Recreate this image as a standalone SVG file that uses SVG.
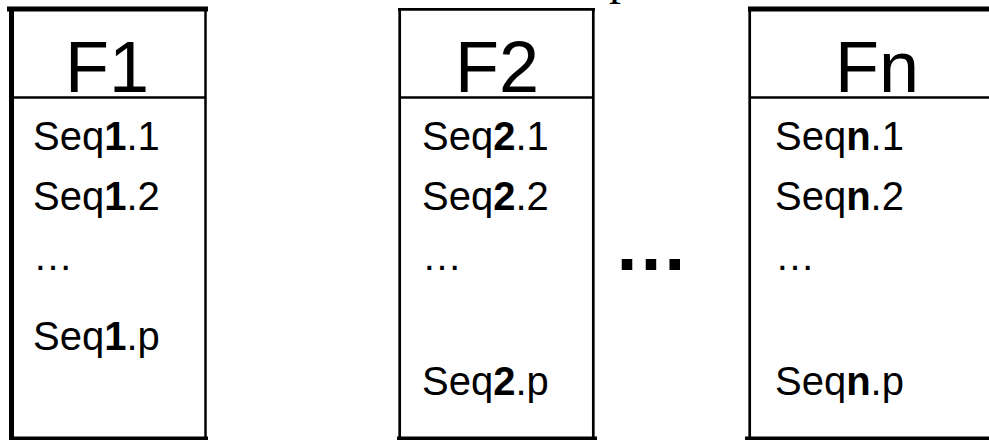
<svg xmlns="http://www.w3.org/2000/svg" width="989" height="440" viewBox="0 0 989 440">
<style>
.ln{stroke:#000;fill:none}
.hd{font-family:"Liberation Sans",Arial,sans-serif;font-size:72px;text-anchor:middle;fill:#000}
.sq{font-family:"Liberation Sans",Arial,sans-serif;font-size:40px;fill:#000}
.b{font-weight:bold}
</style>
<rect width="989" height="440" fill="#fff"/>
<text x="621" y="-6" style="font-family:'Liberation Serif',serif;font-size:48px" text-anchor="middle">p</text>
<g id="F1">
<line class="ln" x1="7" y1="9" x2="208" y2="9" stroke-width="5"/>
<line class="ln" x1="11.5" y1="7" x2="11.5" y2="440" stroke-width="5"/>
<line class="ln" x1="205.5" y1="9" x2="205.5" y2="440" stroke-width="2.5"/>
<line class="ln" x1="11" y1="97.5" x2="206" y2="97.5" stroke-width="2.5"/>
<line class="ln" x1="9" y1="438.5" x2="208" y2="438.5" stroke-width="4"/>
<text class="hd" x="107" y="92">F1</text>
<text class="sq" x="33" y="150">Seq<tspan class="b">1</tspan>.1</text>
<text class="sq" x="33" y="210">Seq<tspan class="b">1</tspan>.2</text>
<text class="sq" x="33" y="270">…</text>
<text class="sq" x="33" y="350">Seq<tspan class="b">1</tspan>.p</text>
</g>
<g id="F2">
<line class="ln" x1="398" y1="9.3" x2="595" y2="9.3" stroke-width="2.7"/>
<line class="ln" x1="399.7" y1="8" x2="399.7" y2="440" stroke-width="2.7"/>
<line class="ln" x1="593.3" y1="8" x2="593.3" y2="440" stroke-width="2.7"/>
<line class="ln" x1="399" y1="97.5" x2="594" y2="97.5" stroke-width="2.5"/>
<line class="ln" x1="397" y1="438.3" x2="597" y2="438.3" stroke-width="3.5"/>
<text class="hd" x="497" y="92">F2</text>
<text class="sq" x="422" y="150">Seq<tspan class="b">2</tspan>.1</text>
<text class="sq" x="422" y="210">Seq<tspan class="b">2</tspan>.2</text>
<text class="sq" x="422" y="270">…</text>
<text class="sq" x="422" y="395">Seq<tspan class="b">2</tspan>.p</text>
</g>
<g id="dots">
<text x="651" y="270" style="font-family:'Liberation Sans',Arial,sans-serif;font-size:75px;font-weight:bold" text-anchor="middle">…</text>
</g>
<g id="Fn">
<line class="ln" x1="748" y1="9" x2="1010" y2="9" stroke-width="5"/>
<line class="ln" x1="749.7" y1="7" x2="749.7" y2="440" stroke-width="2.7"/>
<line class="ln" x1="749" y1="97.5" x2="1010" y2="97.5" stroke-width="2.5"/>
<line class="ln" x1="745" y1="438.3" x2="1010" y2="438.3" stroke-width="3.5"/>
<text class="hd" x="877" y="92">Fn</text>
<text class="sq" x="775" y="150">Seq<tspan class="b">n</tspan>.1</text>
<text class="sq" x="775" y="210">Seq<tspan class="b">n</tspan>.2</text>
<text class="sq" x="775" y="270">…</text>
<text class="sq" x="775" y="395">Seq<tspan class="b">n</tspan>.p</text>
</g>
<g id="connectors"></g>
</svg>
